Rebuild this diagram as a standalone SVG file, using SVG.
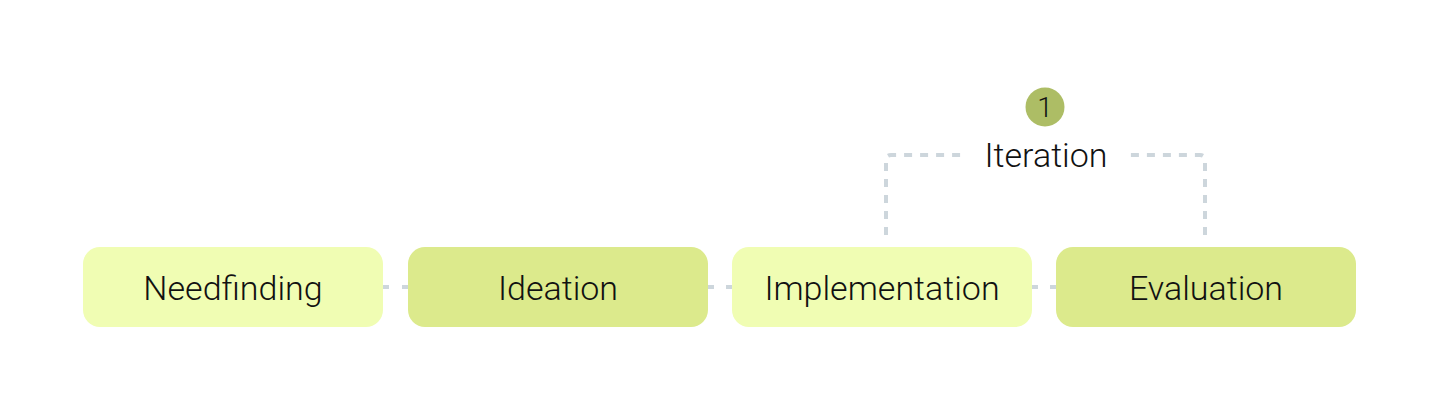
<svg xmlns="http://www.w3.org/2000/svg" width="1439" height="413" viewBox="0 0 1439 413">
<style>
.box{stroke:none}
.light{fill:#f0fdb3}
.dark{fill:#dcea8c}
.lbl{font-family:Roboto,"Liberation Sans",sans-serif;font-weight:300;font-size:34px;fill:#111;text-anchor:middle}
.conn{fill:none;stroke:#cdd6dc;stroke-width:4}
</style>
<rect width="1439" height="413" fill="#ffffff"/>
<g id="connectors">
<path class="conn" d="M383 287 H408" stroke-dasharray="6 13"/>
<path class="conn" d="M708 287 H732" stroke-dasharray="6 12"/>
<path class="conn" d="M1032 287 H1056" stroke-dasharray="6 12"/>
<path class="conn" d="M886 235 V160 Q886 155 891 155 H966" stroke-dasharray="8 8"/>
<path class="conn" d="M1205 235 V160 Q1205 155 1200 155 H1126" stroke-dasharray="8 8"/>
<text class="lbl" x="1046" y="167">Iteration</text>
</g>
<g id="badge">
<circle cx="1045" cy="107" r="19.5" fill="#adbd65"/>
<text x="1045" y="117" font-family="Roboto,'Liberation Sans',sans-serif" font-weight="300" font-size="28" fill="#111" text-anchor="middle">1</text>
</g>
<g id="needfinding">
<rect class="box light" x="83" y="247" width="300" height="80" rx="17"/>
<text class="lbl" x="233" y="300">Needfinding</text>
</g>
<g id="ideation">
<rect class="box dark" x="408" y="247" width="300" height="80" rx="17"/>
<text class="lbl" x="558" y="300">Ideation</text>
</g>
<g id="implementation">
<rect class="box light" x="732" y="247" width="300" height="80" rx="17"/>
<text class="lbl" x="882" y="300">Implementation</text>
</g>
<g id="evaluation">
<rect class="box dark" x="1056" y="247" width="300" height="80" rx="17"/>
<text class="lbl" x="1206" y="300">Evaluation</text>
</g>
</svg>
